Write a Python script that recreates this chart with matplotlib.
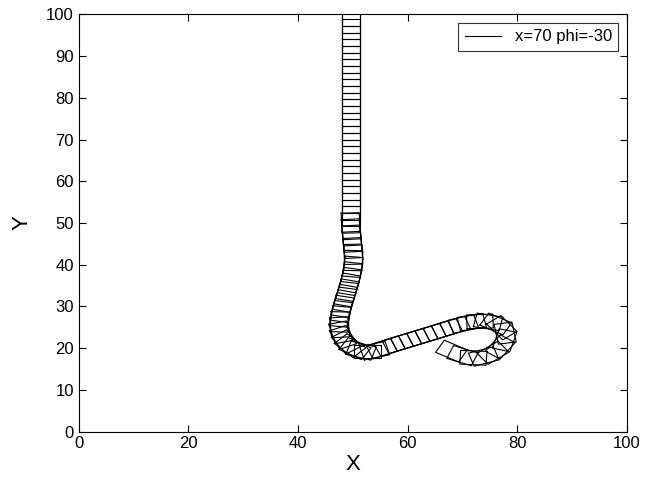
import numpy as np
import matplotlib.pyplot as plt

plt.rcParams['font.family'] = ['Liberation Sans', 'DejaVu Sans']

# truck centre positions, from the start (x=70, phi=-30) to the dock
path_x = [68.0, 70.0, 72.0, 73.9, 75.6, 76.9, 77.7, 77.8, 77.2, 76.1,
          74.7, 73.2, 71.7, 70.2, 68.7, 67.2, 65.7, 64.2, 62.7, 61.2,
          59.7, 58.2, 56.7, 55.3, 54.0, 52.7, 51.5, 50.4, 49.5, 48.8,
          48.2, 47.8, 47.6, 47.6, 47.7, 47.9, 48.1, 48.4, 48.7, 49.0,
          49.3, 49.6, 49.8, 50.0, 50.1, 50.1, 50.0, 49.9, 49.8, 49.7,
          49.6, 49.6, 49.6, 49.6, 49.6, 49.6, 49.6, 49.6, 49.6, 49.6,
          49.6, 49.6, 49.6, 49.6, 49.6, 49.6, 49.6, 49.6, 49.6, 49.6,
          49.6, 49.6, 49.6, 49.6, 49.6, 49.6, 49.6, 49.6, 49.6, 49.6,
          49.6, 49.6]
path_y = [19.3, 18.2, 17.7, 18.0, 18.9, 20.3, 21.9, 23.6, 24.9, 25.8,
          26.3, 26.4, 26.2, 25.8, 25.3, 24.7, 24.1, 23.5, 22.9, 22.3,
          21.7, 21.1, 20.5, 19.9, 19.4, 19.2, 19.4, 19.9, 20.6, 21.5,
          22.6, 23.8, 25.0, 26.3, 27.6, 28.8, 30.0, 31.3, 32.6, 33.9,
          35.3, 36.7, 38.1, 39.5, 41.0, 42.5, 44.0, 45.5, 47.0, 48.5,
          50.0, 51.6, 53.2, 54.8, 56.4, 58.0, 59.6, 61.2, 62.8, 64.4,
          66.0, 67.6, 69.2, 70.8, 72.4, 74.0, 75.6, 77.2, 78.8, 80.4,
          82.0, 83.6, 85.2, 86.8, 88.4, 90.0, 91.6, 93.2, 94.8, 96.4,
          98.0, 99.6]

truck_len = 4.8
truck_wid = 3.3

fig = plt.figure(figsize=(6.57, 4.78), dpi=100)
ax = fig.add_axes([0.120, 0.097, 0.834, 0.873])

px = np.array(path_x)
py = np.array(path_y)
heading = np.arctan2(np.gradient(py), np.gradient(px))

for i in range(len(px)):
    u = np.array([np.cos(heading[i]), np.sin(heading[i])]) * truck_len / 2
    v = np.array([-np.sin(heading[i]), np.cos(heading[i])]) * truck_wid / 2
    c = np.array([px[i], py[i]])
    corners = [c + u + v, c - u + v, c - u - v, c + u - v, c + u + v]
    xs = [p[0] for p in corners]
    ys = [p[1] for p in corners]
    if i == 0:
        ax.plot(xs, ys, color='k', lw=0.8, label='x=70 phi=-30')
    else:
        ax.plot(xs, ys, color='k', lw=0.8)

ax.set_xlim(0, 100)
ax.set_ylim(0, 100)
ax.set_xticks(range(0, 101, 20))
ax.set_yticks(range(0, 101, 10))
ax.tick_params(direction='in', top=True, right=True, length=5, labelsize=12)
ax.set_xlabel('X', fontsize=16, labelpad=2)
ax.set_ylabel('Y', fontsize=16, labelpad=10)

leg = ax.legend(loc='upper right', fontsize=12, fancybox=False, edgecolor='k',
                handlelength=2.2, borderaxespad=0.5)
leg.get_frame().set_linewidth(0.8)

fig.savefig('out.png', dpi=100)
